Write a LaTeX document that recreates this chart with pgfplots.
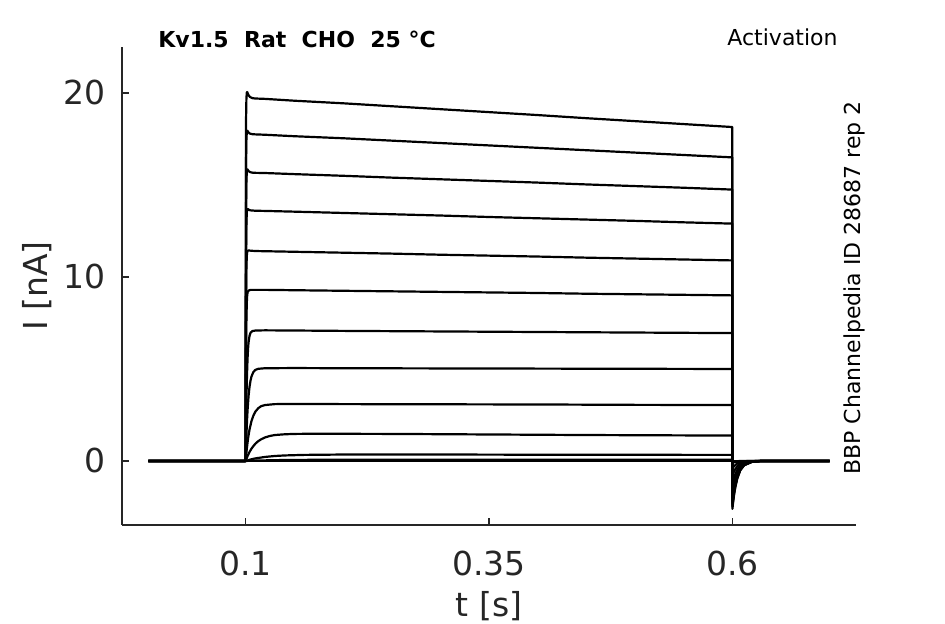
\documentclass[border=0pt]{standalone}
\usepackage{pgfplots}
\pgfplotsset{compat=1.18}
\usepackage{fontspec}
\setmainfont{DejaVu Sans}
\definecolor{axgray}{HTML}{262626}
\begin{document}
\begin{tikzpicture}[trace/.style={black, solid, line width=1.1pt, line join=round, mark=none}]
\useasboundingbox (-61pt,-49.5pt) rectangle (411.5pt,262.5pt);
\begin{axis}[
  at={(0pt,0pt)}, anchor=south west,
  scale only axis, width=367pt, height=239pt,
  xmin=-0.027, xmax=0.727, ymin=-3.48, ymax=22.5,
  axis x line*=bottom, axis y line*=left,
  axis line style={axgray, line width=0.6pt, -},
  xtick={0.1,0.35,0.6}, xticklabels={0.1,0.35,0.6},
  ytick={0,10,20}, yticklabels={0,10,20},
  tick align=inside, major tick length=3.5pt,
  tick style={axgray, line width=0.6pt},
  ticklabel style={font=\fontsize{16.5}{19}\selectfont, text=axgray, inner sep=0pt},
  xticklabel style={yshift=-13pt},
  yticklabel style={xshift=-8pt},
  every axis x label/.style={at={([yshift=-45.5pt]axis description cs:0.5,0)}, anchor=base, font=\fontsize{16.5}{19}\selectfont, text=axgray},
  every axis y label/.style={at={([xshift=-37pt]axis description cs:0,0.5)}, rotate=90, anchor=base, font=\fontsize{16.5}{19}\selectfont, text=axgray},
  xlabel={t [s]}, ylabel={I [nA]},
  clip=false,
]
% trace 1
\addplot[trace] coordinates {(0,0)(0.1,0)(0.1004,18.5)(0.1008,19.7)(0.1012,20.02)(0.1016,20.05)(0.102,20.0)(0.103,19.88)(0.1045,19.78)(0.107,19.72)(0.11,19.7)(0.12,19.68)(0.15,19.58)(0.2,19.44)(0.25,19.28)(0.3,19.12)(0.35,18.96)(0.4,18.8)(0.45,18.63)(0.5,18.47)(0.55,18.31)(0.5999,18.15)(0.6,-2.6)(0.601,-2.13)(0.602,-1.74)(0.603,-1.43)(0.605,-0.96)(0.608,-0.52)(0.612,-0.23)(0.62,-0.05)(0.63,0)(0.7,0)};
% trace 2
\addplot[trace] coordinates {(0,0)(0.1,0)(0.1004,16.3)(0.1008,17.5)(0.1012,17.88)(0.1016,17.95)(0.102,17.93)(0.103,17.85)(0.1045,17.79)(0.107,17.76)(0.11,17.75)(0.12,17.73)(0.15,17.65)(0.2,17.54)(0.25,17.41)(0.3,17.28)(0.35,17.15)(0.4,17.02)(0.45,16.89)(0.5,16.76)(0.55,16.63)(0.5999,16.5)(0.6,-2.5)(0.601,-2.05)(0.602,-1.68)(0.603,-1.38)(0.605,-0.93)(0.608,-0.5)(0.612,-0.23)(0.62,-0.05)(0.63,0)(0.7,0)};
% trace 3
\addplot[trace] coordinates {(0,0)(0.1,0)(0.1004,13.8)(0.1008,15.2)(0.1012,15.72)(0.1016,15.85)(0.102,15.84)(0.103,15.76)(0.1045,15.7)(0.107,15.67)(0.11,15.66)(0.12,15.65)(0.15,15.59)(0.2,15.5)(0.25,15.4)(0.3,15.31)(0.35,15.22)(0.4,15.13)(0.45,15.03)(0.5,14.94)(0.55,14.85)(0.5999,14.75)(0.6,-2.4)(0.601,-1.97)(0.602,-1.61)(0.603,-1.32)(0.605,-0.89)(0.608,-0.48)(0.612,-0.22)(0.62,-0.04)(0.63,0)(0.7,0)};
% trace 4
\addplot[trace] coordinates {(0,0)(0.1,0)(0.1004,11.2)(0.1008,12.9)(0.1012,13.5)(0.1016,13.68)(0.102,13.7)(0.103,13.66)(0.105,13.62)(0.11,13.6)(0.12,13.59)(0.15,13.55)(0.2,13.48)(0.25,13.41)(0.3,13.34)(0.35,13.26)(0.4,13.19)(0.45,13.12)(0.5,13.05)(0.55,12.97)(0.5999,12.9)(0.6,-2.3)(0.601,-1.89)(0.602,-1.54)(0.603,-1.27)(0.605,-0.85)(0.608,-0.46)(0.612,-0.21)(0.62,-0.04)(0.63,0)(0.7,0)};
% trace 5
\addplot[trace] coordinates {(0,0)(0.1,0)(0.1004,8.6)(0.1008,10.5)(0.1012,11.15)(0.1016,11.35)(0.102,11.42)(0.103,11.44)(0.105,11.43)(0.11,11.41)(0.12,11.4)(0.15,11.37)(0.2,11.32)(0.25,11.27)(0.3,11.21)(0.35,11.16)(0.4,11.11)(0.45,11.05)(0.5,11.0)(0.55,10.95)(0.5999,10.9)(0.6,-2.2)(0.601,-1.8)(0.602,-1.47)(0.603,-1.21)(0.605,-0.81)(0.608,-0.44)(0.612,-0.2)(0.62,-0.04)(0.63,0)(0.7,0)};
% trace 6
\addplot[trace] coordinates {(0,0)(0.1,0)(0.1004,5.6)(0.1008,7.7)(0.1012,8.6)(0.1016,9.0)(0.102,9.17)(0.103,9.26)(0.105,9.3)(0.11,9.3)(0.12,9.3)(0.15,9.28)(0.2,9.25)(0.25,9.22)(0.3,9.19)(0.35,9.16)(0.4,9.13)(0.45,9.09)(0.5,9.06)(0.55,9.03)(0.5999,9.0)(0.6,-2.0)(0.601,-1.64)(0.602,-1.34)(0.603,-1.1)(0.605,-0.74)(0.608,-0.4)(0.612,-0.18)(0.62,-0.04)(0.63,0)(0.7,0)};
% trace 7
\addplot[trace] coordinates {(0,0)(0.1,0)(0.1004,1.9)(0.1008,3.3)(0.1012,4.3)(0.1016,5.0)(0.102,5.6)(0.1025,6.1)(0.103,6.45)(0.104,6.8)(0.105,6.97)(0.107,7.06)(0.11,7.09)(0.12,7.1)(0.15,7.09)(0.2,7.07)(0.3,7.04)(0.4,7.01)(0.5,6.98)(0.5999,6.95)(0.6,-1.7)(0.601,-1.39)(0.602,-1.14)(0.603,-0.94)(0.605,-0.63)(0.608,-0.34)(0.612,-0.15)(0.62,-0.03)(0.63,0)(0.7,0)};
% trace 8
\addplot[trace] coordinates {(0,0)(0.1,0)(0.1005,0.92)(0.101,1.67)(0.1015,2.27)(0.102,2.78)(0.103,3.53)(0.104,4.03)(0.105,4.36)(0.106,4.59)(0.108,4.84)(0.11,4.95)(0.113,5.01)(0.12,5.04)(0.15,5.05)(0.2,5.04)(0.3,5.03)(0.4,5.02)(0.5,5.01)(0.5999,5.0)(0.6,-1.3)(0.601,-1.07)(0.602,-0.87)(0.603,-0.72)(0.605,-0.48)(0.608,-0.26)(0.612,-0.12)(0.62,-0.02)(0.63,0)(0.7,0)};
% trace 9
\addplot[trace] coordinates {(0,0)(0.1,0)(0.101,0.56)(0.102,1.02)(0.103,1.40)(0.104,1.71)(0.106,2.17)(0.108,2.47)(0.11,2.68)(0.113,2.87)(0.116,2.98)(0.12,3.04)(0.13,3.09)(0.15,3.1)(0.2,3.09)(0.3,3.08)(0.4,3.07)(0.5,3.05)(0.5999,3.04)(0.6,-0.8)(0.601,-0.66)(0.602,-0.54)(0.603,-0.44)(0.605,-0.3)(0.608,-0.16)(0.612,-0.07)(0.62,-0.01)(0.63,0)(0.7,0)};
% trace 10
\addplot[trace] coordinates {(0,0)(0.1,0)(0.101,0.14)(0.102,0.27)(0.104,0.49)(0.106,0.67)(0.108,0.81)(0.11,0.94)(0.113,1.08)(0.116,1.18)(0.12,1.28)(0.125,1.36)(0.13,1.41)(0.14,1.45)(0.15,1.47)(0.17,1.48)(0.25,1.47)(0.35,1.44)(0.45,1.41)(0.5999,1.38)(0.6,-0.4)(0.601,-0.33)(0.602,-0.27)(0.603,-0.22)(0.605,-0.15)(0.608,-0.08)(0.612,-0.04)(0.62,-0.01)(0.63,0)(0.7,0)};
% trace 11
\addplot[trace] coordinates {(0,0)(0.1,0)(0.102,0.03)(0.105,0.08)(0.11,0.14)(0.115,0.18)(0.12,0.22)(0.13,0.27)(0.14,0.30)(0.16,0.33)(0.2,0.35)(0.3,0.35)(0.4,0.34)(0.5999,0.33)(0.6,-0.1)(0.601,-0.08)(0.603,-0.06)(0.605,-0.04)(0.608,-0.02)(0.612,-0.01)(0.62,0)(0.7,0)};
% trace 12
\addplot[trace] coordinates {(0,0)(0.1,0)(0.11,0.02)(0.13,0.045)(0.16,0.06)(0.2,0.07)(0.5999,0.07)(0.6,-0.02)(0.61,0)(0.7,0)};
% trace 13
\addplot[trace] coordinates {(0,0)(0.7,0)};
\end{axis}
\node[inner sep=0pt, anchor=base west, font=\bfseries\fontsize{11}{13}\selectfont] at (18pt,238.5pt) {Kv1.5\ \ Rat\ \ CHO\ \ 25 °C};
\node[inner sep=0pt, anchor=base east, font=\fontsize{11}{13}\selectfont] at (358pt,239.5pt) {Activation};
\node[inner sep=0pt, rotate=90, anchor=base, font=\fontsize{11}{13}\selectfont] at (369pt,118.5pt) {BBP Channelpedia ID 28687 rep 2};
\end{tikzpicture}
\end{document}
